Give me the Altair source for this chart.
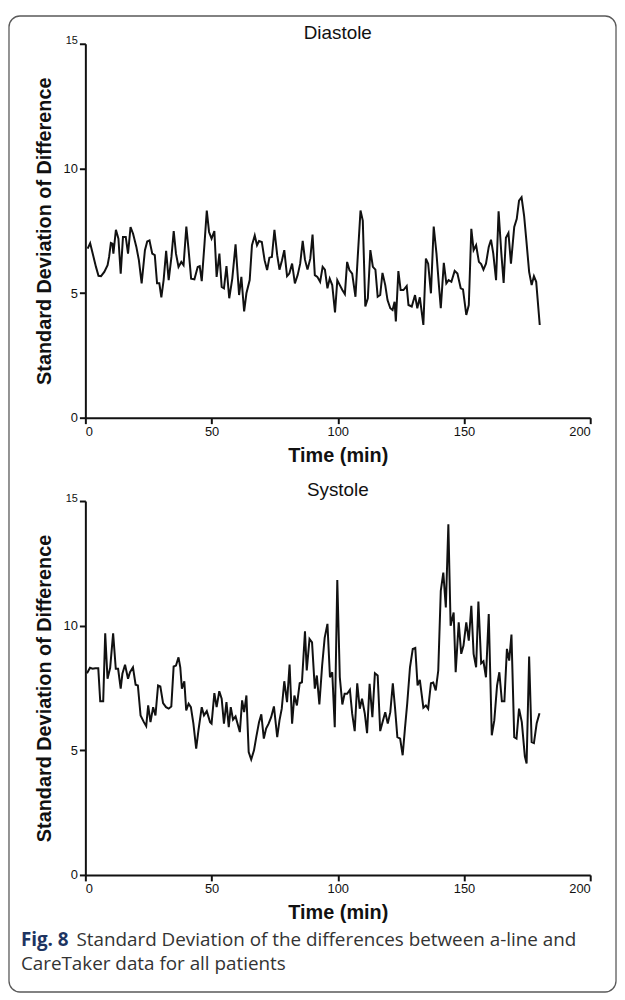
import altair as alt
import pandas as pd

# ---------------- data ----------------
dia_time = [
    0.9, 1.9, 4.2, 5.2, 6.2, 7.5, 8.8, 9.4, 10.1, 10.7,
    11.1, 12.1, 13.1, 14.0, 14.9, 16.0, 16.9, 17.9, 18.9, 20.2,
    21.2, 22.3, 23.6, 24.5, 25.4, 26.5, 27.5, 28.4, 29.3, 30.1,
    31.0, 32.0, 33.0, 34.1, 35.0, 35.9, 36.9, 38.0, 38.9, 40.0,
    40.9, 41.9, 43.2, 44.5, 45.3, 46.1, 47.2, 48.1, 49.0, 50.0,
    51.1, 52.0, 53.1, 54.0, 54.9, 55.9, 57.0, 58.2, 59.5, 60.9,
    61.8, 62.9, 63.8, 65.1, 66.0, 67.1, 68.0, 68.8, 69.9, 71.0,
    72.0, 72.9, 73.9, 74.9, 76.0, 76.9, 77.9, 78.8, 79.9, 80.8,
    81.9, 83.0, 84.1, 85.1, 86.1, 87.0, 88.0, 89.1, 90.0, 90.9,
    91.9, 93.0, 94.0, 94.9, 95.9, 96.8, 97.8, 98.9, 99.8, 100.8,
    101.8, 102.8, 103.7, 104.6, 105.7, 107.0, 107.9, 109.0, 109.9, 110.9,
    111.9, 112.9, 113.9, 114.9, 115.8, 116.8, 117.7, 118.8, 119.7, 120.8,
    121.7, 122.5, 123.0, 124.0, 124.9, 126.0, 127.3, 128.0, 129.3, 130.6,
    131.5, 132.5, 133.9, 134.9, 135.8, 136.9, 138.0, 139.1, 140.0, 140.8,
    142.0, 143.0, 143.9, 145.0, 146.3, 147.4, 148.7, 149.6, 150.9, 151.9,
    152.9, 153.8, 154.8, 155.9, 156.8, 157.7, 158.7, 159.8, 160.7, 161.6,
    162.7, 163.7, 164.8, 165.7, 166.6, 167.6, 168.6, 169.9, 170.9, 171.8,
    172.8, 173.8, 174.7, 175.8, 176.8, 177.7, 178.6, 180.0,
]
dia_sd = [
    6.78, 7.0, 6.05, 5.69, 5.68, 5.85, 6.12, 6.45, 7.01, 6.98,
    6.58, 7.54, 7.18, 5.78, 7.25, 7.25, 6.58, 7.65, 7.38, 6.85,
    6.32, 5.39, 6.72, 7.07, 7.11, 6.58, 6.52, 5.39, 5.39, 4.83,
    5.52, 6.69, 5.52, 6.45, 7.49, 6.58, 6.05, 6.25, 6.12, 7.67,
    6.72, 5.58, 5.55, 6.05, 6.08, 5.48, 6.98, 8.31, 7.45, 7.18,
    7.49, 5.65, 6.58, 5.25, 5.19, 6.08, 4.79, 5.58, 6.95, 4.92,
    5.65, 4.26, 4.99, 5.52, 6.92, 7.31, 6.92, 7.09, 7.05, 6.32,
    5.92, 6.42, 6.45, 7.54, 6.52, 5.94, 6.32, 6.72, 5.68, 5.78,
    6.18, 5.39, 5.72, 6.18, 7.09, 6.34, 5.94, 6.38, 7.35, 5.72,
    5.65, 5.45, 6.05, 5.94, 5.19, 5.58, 5.32, 4.22, 5.52, 5.32,
    5.12, 4.96, 6.25, 5.92, 5.78, 4.85, 6.45, 8.31, 7.91, 4.46,
    4.79, 6.72, 6.05, 5.94, 4.85, 4.92, 5.81, 5.32, 4.72, 4.39,
    4.32, 4.65, 3.86, 5.88, 5.12, 5.12, 5.28, 4.52, 4.46, 4.92,
    4.39, 4.83, 3.72, 6.38, 6.18, 4.99, 7.67, 6.58, 5.39, 4.39,
    6.21, 5.39, 5.52, 5.45, 5.89, 5.78, 5.19, 5.15, 4.12, 4.52,
    7.58, 6.72, 6.92, 6.25, 6.16, 5.94, 6.18, 6.85, 7.14, 6.58,
    5.52, 8.28, 6.58, 5.41, 7.22, 7.41, 6.18, 7.65, 7.98, 8.71,
    8.84, 8.11, 7.11, 5.85, 5.32, 5.68, 5.45, 3.72,
]

sys_time = [
    0.65, 1.83, 2.88, 3.93, 5.11, 5.89, 7.07, 7.86, 8.78, 9.82,
    11.0, 12.05, 12.97, 14.0, 14.67, 15.72, 16.9, 17.68, 18.86, 19.9,
    20.8, 21.87, 23.18, 24.1, 24.88, 25.8, 26.85, 27.77, 28.8, 29.7,
    30.78, 31.96, 33.0, 34.05, 34.97, 35.9, 36.9, 37.6, 38.24, 39.2,
    39.95, 40.9, 41.8, 42.8, 43.9, 44.8, 46.1, 47.0, 48.1, 49.4,
    50.0, 51.1, 52.0, 53.05, 54.0, 54.9, 55.9, 56.8, 57.6, 58.5,
    59.5, 61.2, 62.1, 62.9, 63.8, 64.7, 65.7, 66.8, 67.7, 68.8,
    69.7, 70.7, 71.6, 72.6, 73.6, 74.7, 76.0, 76.9, 77.8, 78.8,
    79.9, 80.9, 81.9, 82.8, 83.8, 84.9, 85.8, 87.0, 87.7, 88.8,
    89.8, 90.9, 91.7, 92.7, 93.8, 94.8, 95.9, 96.9, 97.8, 98.8,
    99.8, 100.8, 101.8, 102.7, 103.7, 104.8, 105.7, 106.7, 107.7, 108.7,
    109.6, 110.7, 111.6, 112.6, 113.7, 114.7, 115.8, 116.8, 117.9, 118.8,
    119.8, 120.8, 121.8, 122.7, 123.6, 124.7, 125.7, 126.6, 127.5, 128.6,
    129.7, 130.7, 131.6, 132.5, 133.9, 134.9, 135.8, 136.9, 137.8, 138.8,
    139.8, 140.8, 141.8, 142.8, 143.8, 144.7, 145.9, 146.7, 147.9, 148.9,
    149.8, 150.9, 151.9, 152.9, 153.8, 154.8, 155.7, 156.8, 157.7, 158.7,
    159.8, 161.0, 162.0, 163.1, 164.0, 165.0, 166.0, 167.0, 167.9, 168.8,
    169.9, 170.8, 171.8, 172.9, 174.1, 174.8, 175.8, 176.8, 177.7, 178.8, 179.9,
]
sys_sd = [
    8.09, 8.31, 8.27, 8.29, 8.29, 6.97, 6.97, 9.69, 7.87, 8.31,
    9.69, 8.27, 8.27, 7.47, 8.07, 8.43, 7.87, 8.13, 8.33, 7.63,
    7.6, 6.4, 6.13, 5.97, 6.8, 6.13, 6.73, 6.4, 7.6, 7.56,
    6.89, 6.73, 6.67, 6.76, 8.36, 8.4, 8.73, 8.33, 7.47, 7.77,
    6.6, 6.87, 6.73, 6.07, 5.07, 5.8, 6.73, 6.4, 6.57, 6.13,
    6.07, 7.29, 6.73, 7.37, 7.07, 6.07, 6.93, 5.93, 6.73, 6.23,
    6.36, 5.73, 7.0, 6.53, 7.2, 4.93, 4.63, 5.0, 5.53, 6.13,
    6.44, 5.47, 5.87, 6.07, 6.33, 6.76, 5.53, 6.2, 6.67, 7.77,
    6.93, 8.44, 6.07, 7.2, 6.8, 7.69, 7.73, 9.77, 8.2, 9.47,
    9.33, 7.47, 8.0, 6.84, 8.4, 9.51, 10.07, 7.93, 8.13, 5.93,
    11.83, 7.93, 6.84, 7.27, 7.27, 7.43, 6.47, 5.77, 7.69, 6.67,
    7.07, 6.47, 5.69, 7.67, 6.33, 8.09, 8.0, 5.77, 6.2, 6.53,
    6.07, 6.53, 7.69, 6.67, 5.53, 5.47, 4.8, 5.87, 6.87, 8.33,
    9.07, 9.11, 7.6, 7.83, 6.71, 6.8, 6.67, 7.69, 7.72, 7.4,
    8.2, 11.4, 12.13, 10.73, 14.07, 10.0, 10.53, 8.13, 10.13, 8.87,
    9.2, 10.13, 9.4, 10.8, 8.87, 8.33, 10.97, 8.49, 8.57, 7.93,
    10.47, 5.6, 6.2, 7.6, 8.13, 6.97, 6.97, 9.07, 8.6, 9.64,
    5.53, 5.47, 6.67, 6.13, 4.76, 4.47, 8.76, 5.33, 5.29, 6.09, 6.49,
]

x_ticks = [0, 50, 100, 150, 200]
y_ticks = [0, 5, 10, 15]
panel_titles = ["Diastole", "Systole"]
x_title = "Time (min)"
y_title = "Standard Deviation of Difference"
caption_bold = "Fig. 8"
caption_line1 = "Standard Deviation of the differences between a-line and"
caption_line2 = "CareTaker data for all patients"

assert len(dia_time) == len(dia_sd)
assert len(sys_time) == len(sys_sd)

FONT = "Liberation Sans"
CAP_FONT = "Open Sans"
CAP_SIZE = 19
W, H = 509, 377


def panel(times, values):
    df = pd.DataFrame({"time": times, "sd": values})
    return alt.Chart(df).mark_line(color="#111111", strokeWidth=2).encode(
        x=alt.X(
            "time:Q",
            scale=alt.Scale(domain=[0, 200], nice=False, zero=True),
            axis=alt.Axis(values=x_ticks, title=x_title, format="d"),
        ),
        y=alt.Y(
            "sd:Q",
            scale=alt.Scale(domain=[0, 15], nice=False),
            axis=alt.Axis(
                values=y_ticks, title=y_title, format="d",
                labelFontSize={"condition": {"test": "datum.value === 15", "value": 11}, "value": 13},
                labelBaseline={"condition": {"test": "datum.value === 15", "value": "alphabetic"}, "value": "middle"},
            ),
        ),
    )


def title_mark(text, y):
    return alt.Chart(pd.DataFrame({"k": [0]})).mark_text(
        text=text, font=FONT, fontSize=19, color="#111111",
        align="center", baseline="middle",
    ).encode(x=alt.value(W / 2), y=alt.value(y))


one = pd.DataFrame({"k": [0]})

frame = alt.Chart(one).mark_rect(
    fillOpacity=0, stroke="#5a5a5a", strokeWidth=1.3, cornerRadius=11
).encode(
    x=alt.value(-77), x2=alt.value(535), y=alt.value(-28), y2=alt.value(956)
)

top = alt.layer(
    frame, panel(dia_time, dia_sd), title_mark(panel_titles[0], -11)
).properties(width=W, height=H)

cap_bold = alt.Chart(one).mark_text(
    text=caption_bold, font=CAP_FONT, fontWeight="bold", fontSize=CAP_SIZE,
    color="#1d3461", align="left", baseline="middle",
).encode(x=alt.value(-65), y=alt.value(443))
cap_1 = alt.Chart(one).mark_text(
    text=caption_line1, font=CAP_FONT, fontSize=CAP_SIZE,
    color="#333333", align="left", baseline="middle",
).encode(x=alt.value(-9), y=alt.value(443))
cap_2 = alt.Chart(one).mark_text(
    text=caption_line2, font=CAP_FONT, fontSize=CAP_SIZE,
    color="#333333", align="left", baseline="middle",
).encode(x=alt.value(-65), y=alt.value(467))

bottom = alt.layer(
    panel(sys_time, sys_sd), title_mark(panel_titles[1], -11), cap_bold, cap_1, cap_2
).properties(width=W, height=H)

chart = alt.vconcat(top, bottom, spacing=84, bounds="flush").properties(
    padding={"left": 0, "top": 3, "right": 0, "bottom": 0}
).configure_view(strokeWidth=0).configure_axis(
    grid=False,
    domainColor="#111111",
    domainWidth=2,
    tickColor="#111111",
    tickWidth=2,
    tickSize=6,
    labelFont=FONT,
    labelFontSize=13,
    labelColor="#111111",
    labelPadding=2,
    titleFont=FONT,
    titleFontSize=20,
    titleFontWeight="bold",
    titleColor="#111111",
).configure_axisX(titlePadding=7).configure_axisY(titlePadding=9)

chart.save("out.html", embed_options={"renderer": "svg", "actions": False})
